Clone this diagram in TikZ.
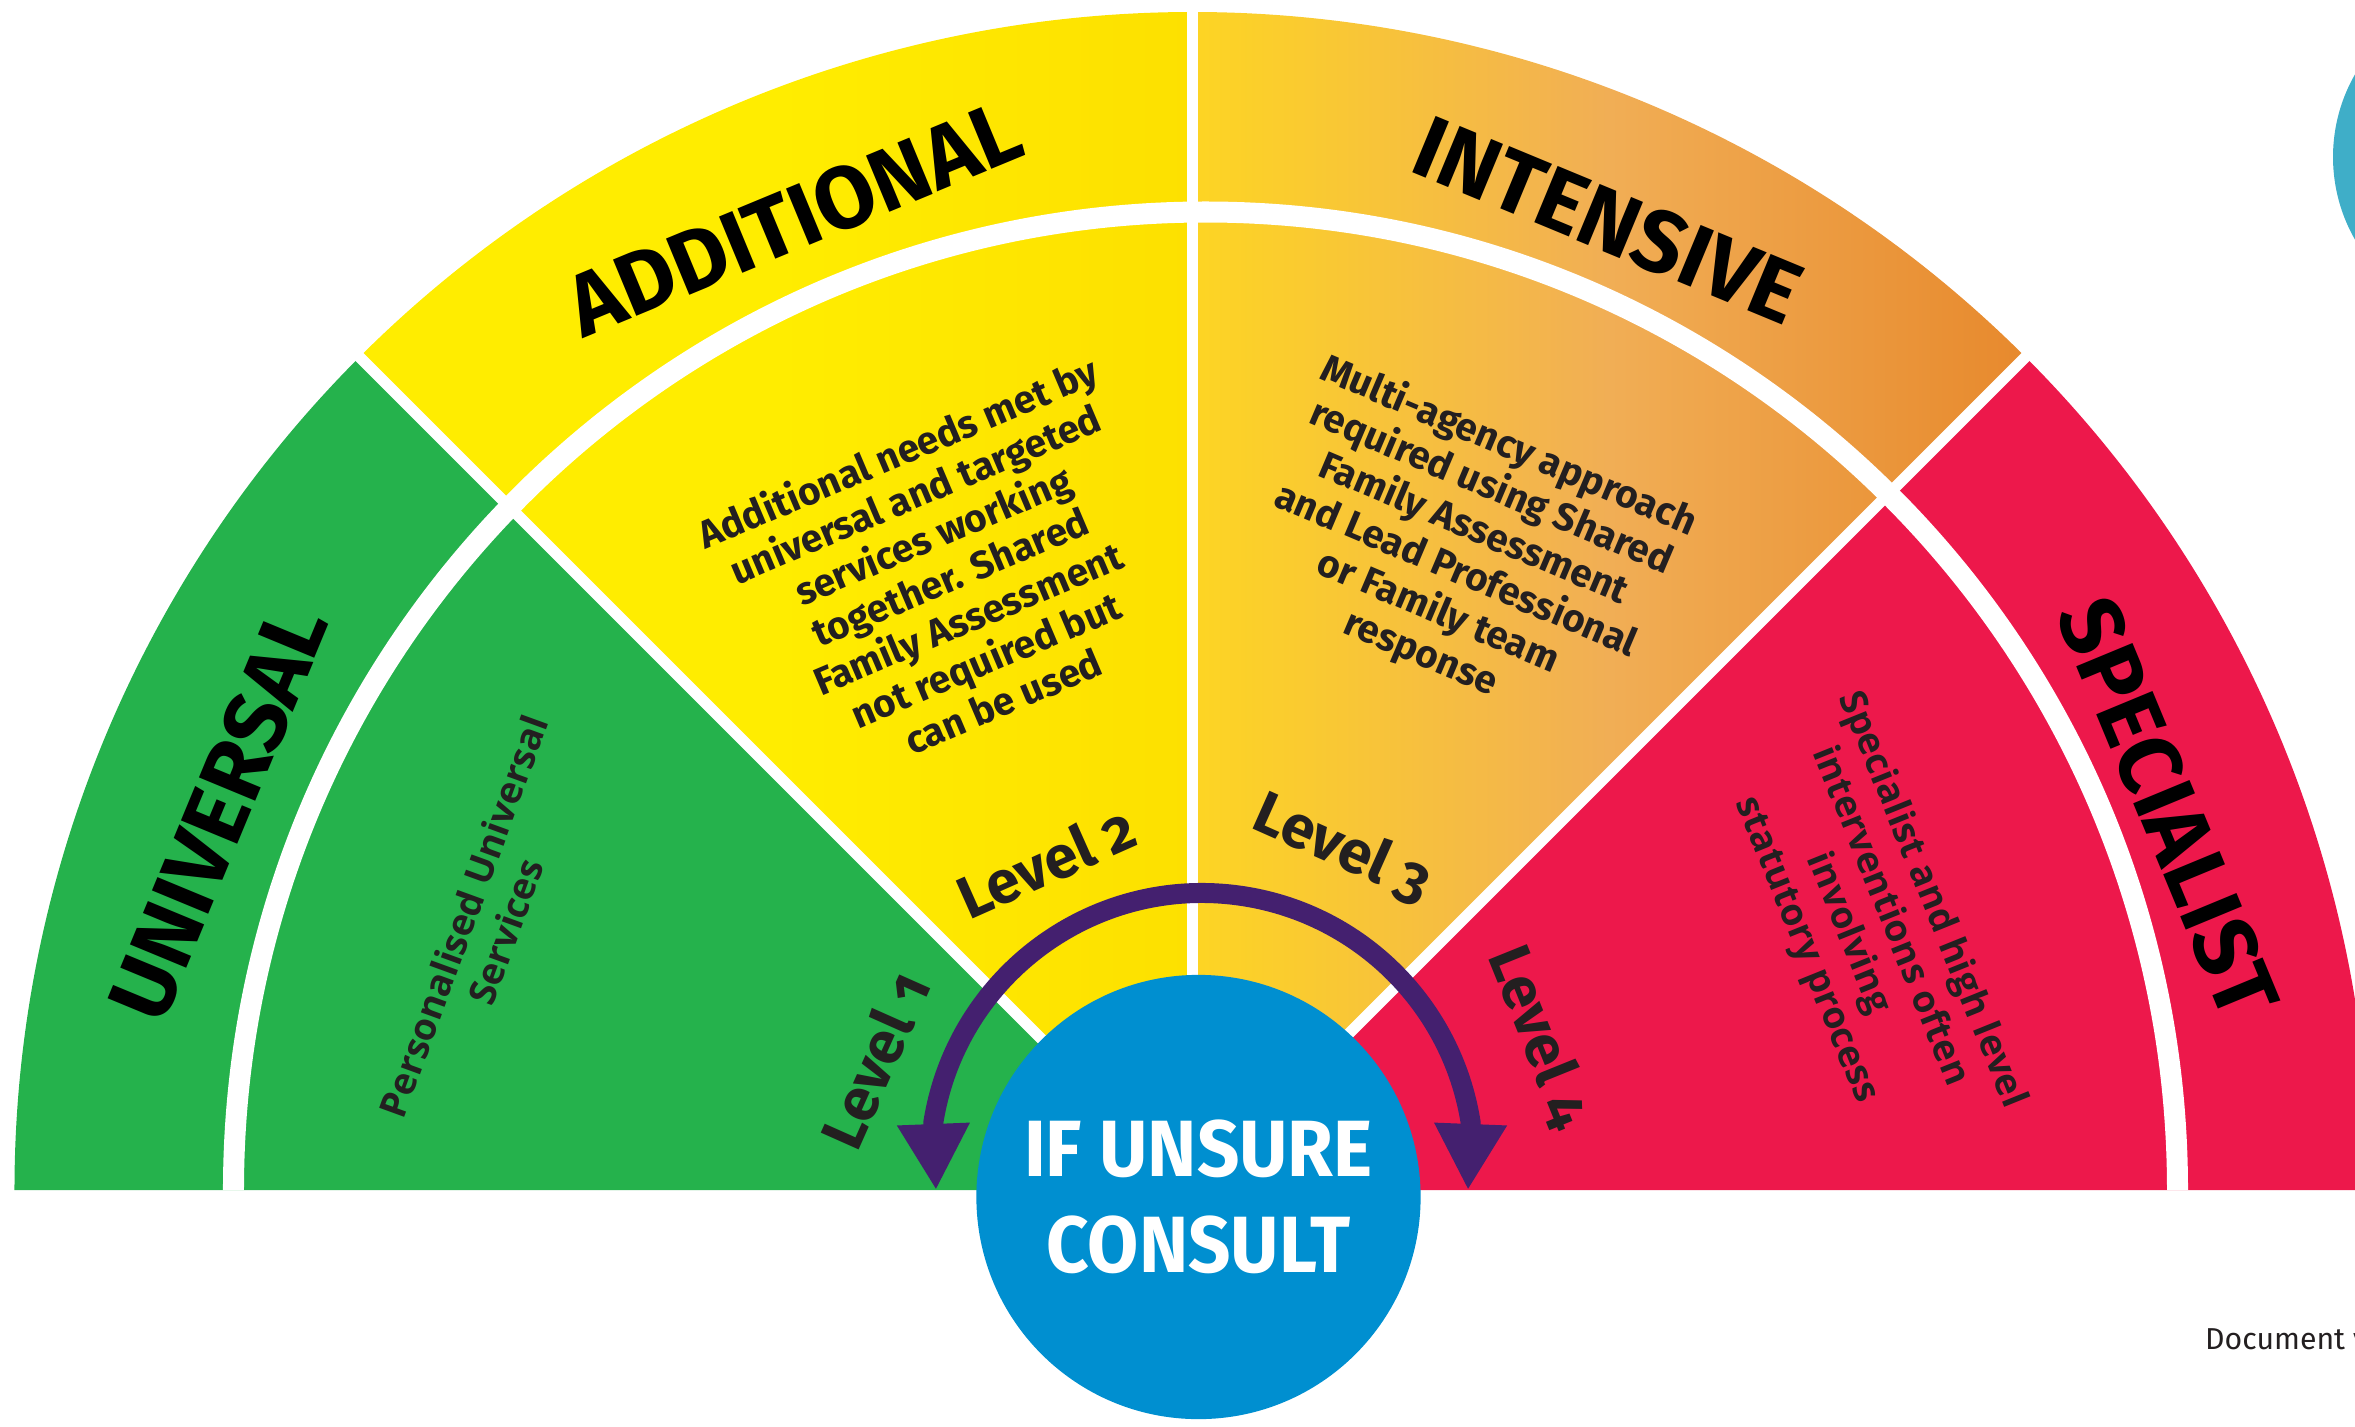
\documentclass[tikz,border=0pt]{standalone}
\usepackage{fontspec}
\setmainfont{Fira Sans}
\newfontfamily\levelfont[Numbers=OldStyle]{Fira Sans}
\newfontfamily\opensans{Open Sans}
\newfontfamily\consultfont[FakeStretch=0.93]{Fira Sans}
\usetikzlibrary{arrows.meta}

\definecolor{univgreen}{HTML}{25B24C}
\definecolor{addyellow}{HTML}{FFED00}
\definecolor{addyellowdeep}{HTML}{FDE000}
\definecolor{intlight}{HTML}{FDD523}
\definecolor{intmid}{HTML}{F1AE55}
\definecolor{intdeep}{HTML}{E7892D}
\definecolor{specred}{HTML}{ED184B}
\definecolor{consultblue}{HTML}{008FD0}
\definecolor{arrowpurple}{HTML}{44206F}
\definecolor{cornerteal}{HTML}{3FAEC8}
\definecolor{inkdark}{HTML}{231F20}

\tikzstyle{H} = [font=\bfseries\fontsize{25}{30}\selectfont,
			text=black, inner sep=0pt]
\tikzstyle{B} = [font=\bfseries\fontsize{11}{12.8}\selectfont,
			text=inkdark, align=center, inner sep=0pt]
\tikzstyle{O} = [font=\opensans\bfseries\fontsize{10.6}{12.8}\selectfont,
			text=inkdark, align=center, inner sep=0pt]
\tikzstyle{V} = [font=\levelfont\bfseries\fontsize{17}{20}\selectfont,
			text=inkdark, inner sep=0pt]
\tikzstyle{W} = [draw=white, line width=0.11cm]
\tikzstyle{A} = [draw=arrowpurple, line width=0.2cm,
			{Triangle[width=0.68cm,length=0.66cm]}-{Triangle[width=0.68cm,length=0.66cm]}]

\begin{document}
\begin{tikzpicture}[x=0.01cm, y=0.01cm]

\useasboundingbox (-1192.5,-236) rectangle (1162.5,1190);
\clip (-1192.5,-236) rectangle (1162.5,1190);

% the four levels
\fill[univgreen] (0,0) -- (180:1178) arc[start angle=180, end angle=135, radius=1178] -- cycle;
\shade[left color=addyellow, right color=addyellowdeep, middle color=addyellow]
	(0,0) -- (135:1178) arc[start angle=135, end angle=90, radius=1178] -- cycle;
\shade[left color=intlight, right color=intdeep, middle color=intmid]
	(0,0) -- (90:1178) arc[start angle=90, end angle=45, radius=1178] -- cycle;
\fill[specred] (0,0) -- (45:1178) arc[start angle=45, end angle=0, radius=1178] -- cycle;

% white gaps
\draw[white, line width=0.21cm] (-959,0) arc[start angle=180, end angle=0, x radius=972, y radius=978];
\foreach \a in {135,90,45}
	\draw[W] (0,0) -- (\a:1220);

\fill[cornerteal] (1306.5,1033) circle[radius=166];

\node [H, rotate=67.5]
(uni)
	at (158.8:1045) {UNIVERSAL};

\node [H, rotate=22.5]
(add)
	at (112.3:1050) {ADDITIONAL};

\node [H, rotate=-22.5]
(int)
	at (66.8:1055) {INTENSIVE};

\node [H, rotate=-67.5]
(spe)
	at (21.4:1048) {SPECIALIST};

\node [O, rotate=70]
(pus)
	at (-708,266) {Personalised Universal\\Services};

\node [B, rotate=23]
(anm)
	at (-242.5,614) {Additional needs met by\\universal and targeted\\services working\\together. Shared\\Family Assessment\\not required but\\can be used};

\node [B, rotate=-23]
(maa)
	at (272,640) {Multi-agency approach\\required using Shared\\Family Assessment\\and Lead Professional\\or Family team\\response};

\node [O, rotate=-68]
(shl)
	at (676,265) {Specialist and high level\\interventions often\\involving\\statutory process};

\node [V, rotate=66] (lv1) at (-318,130) {Level 1};
\node [V, rotate=24] (lv2) at (-146.5,328) {Level 2};
\node [V, rotate=-24] (lv3) at (150.5,342) {Level 3};
\node [V, rotate=-68] (lv4) at (348,153) {Level 4};

% consult circle and arrow
\node [circle, fill=consultblue, minimum size=4.44cm, inner sep=0pt,
	text=white, align=center,
	font=\consultfont\bfseries\fontsize{22.7}{27.3}\selectfont]
(unsure)
	at (6,-7) {IF UNSURE\\CONSULT};

\coordinate (al) at (-256.5,0);
\coordinate (ar) at (275.5,0);
\path[A] (al) -- (-259.15,67.55) arc[start angle=171, end angle=9, radius=272] -- (ar);

\node [font=\fontsize{8.6}{11}\selectfont, text=inkdark, anchor=base west, inner sep=0pt]
(doc)
	at (1012,-159) {Document v};

\end{tikzpicture}
\end{document}
